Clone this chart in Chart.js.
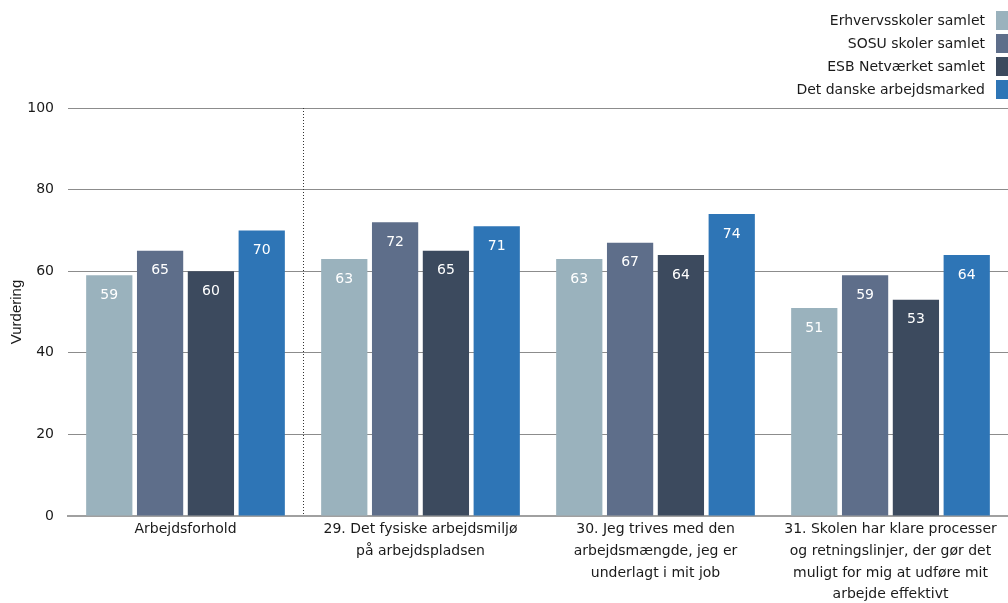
<!DOCTYPE html>
<html>
<head>
<meta charset="utf-8">
<script src="https://cdn.jsdelivr.net/npm/chart.js@4/dist/chart.umd.min.js"></script>
<style>
  html, body { margin: 0; padding: 0; background: #fff; }
  #wrap { width: 1008px; height: 603px; }
</style>
</head>
<body>
<div id="wrap"><canvas id="c" width="1008" height="603"></canvas></div>
<script>
const categories = [
  ['Arbejdsforhold'],
  ['29. Det fysiske arbejdsmiljø', 'på arbejdspladsen'],
  ['30. Jeg trives med den', 'arbejdsmængde, jeg er', 'underlagt i mit job'],
  ['31. Skolen har klare processer', 'og retningslinjer, der gør det', 'muligt for mig at udføre mit', 'arbejde effektivt']
];
const seriesNames = ['Erhvervsskoler samlet', 'SOSU skoler samlet', 'ESB Netværket samlet', 'Det danske arbejdsmarked'];
const erhvervsskoler = [59, 63, 63, 51];
const sosu = [65, 72, 67, 59];
const esb = [60, 65, 64, 53];
const arbejdsmarked = [70, 71, 74, 64];
const yTicks = [0, 20, 40, 60, 80, 100];
const colors = ['#9AB2BD', '#5E6E8A', '#3C4A5E', '#2E75B6'];

const FONT = '"DejaVu Sans", Verdana, sans-serif';

// value labels inside the top of each bar
const valueLabels = {
  id: 'valueLabels',
  afterDatasetsDraw(chart) {
    const ctx = chart.ctx;
    ctx.save();
    ctx.font = '14px ' + FONT;
    ctx.fillStyle = '#ffffff';
    ctx.textAlign = 'center';
    ctx.textBaseline = 'middle';
    chart.data.datasets.forEach((ds, i) => {
      chart.getDatasetMeta(i).data.forEach((bar, j) => {
        ctx.fillText(String(ds.data[j]), bar.x, bar.y + 20);
      });
    });
    ctx.restore();
  }
};

// dotted separator between the summary group and the questions
const separator = {
  id: 'separator',
  afterDatasetsDraw(chart) {
    const xs = chart.scales.x, ys = chart.scales.y;
    const x = Math.round((xs.getPixelForValue(0) + xs.getPixelForValue(1)) / 2) + 0.5;
    const ctx = chart.ctx;
    ctx.save();
    ctx.strokeStyle = '#333';
    ctx.lineWidth = 1;
    ctx.setLineDash([1, 2]);
    ctx.beginPath();
    ctx.moveTo(x, ys.getPixelForValue(100));
    ctx.lineTo(x, ys.getPixelForValue(0));
    ctx.stroke();
    ctx.restore();
  }
};

// right-aligned stacked legend with swatches on the right
const stackedLegend = {
  id: 'stackedLegend',
  afterDraw(chart) {
    const ctx = chart.ctx;
    ctx.save();
    ctx.font = '14px ' + FONT;
    ctx.textAlign = 'right';
    ctx.textBaseline = 'middle';
    chart.data.datasets.forEach((ds, i) => {
      const top = 11 + i * 23;
      ctx.fillStyle = ds.backgroundColor;
      ctx.fillRect(996, top, 14, 19);
      ctx.fillStyle = '#1a1a1a';
      ctx.fillText(ds.label, 985, top + 10);
    });
    ctx.restore();
  }
};

new Chart(document.getElementById('c'), {
  type: 'bar',
  data: {
    labels: categories,
    datasets: [
      { label: seriesNames[0], data: erhvervsskoler, backgroundColor: colors[0] },
      { label: seriesNames[1], data: sosu, backgroundColor: colors[1] },
      { label: seriesNames[2], data: esb, backgroundColor: colors[2] },
      { label: seriesNames[3], data: arbejdsmarked, backgroundColor: colors[3] }
    ]
  },
  options: {
    responsive: false,
    animation: false,
    layout: { padding: { top: 108, right: 0, left: 8, bottom: 0 } },
    datasets: { bar: { categoryPercentage: 0.865, barPercentage: 0.91 } },
    plugins: { legend: { display: false }, tooltip: { enabled: false } },
    scales: {
      x: {
        afterFit(axis) { axis.paddingLeft = 0; axis.paddingRight = 0; axis.height = 87; },
        grid: { display: false, drawTicks: false },
        border: { display: true, color: '#a0a0a0', width: 2 },
        ticks: { color: '#1a1a1a', font: { family: FONT, size: 14, lineHeight: 1.54 }, padding: 3, maxRotation: 0, autoSkip: false }
      },
      y: {
        min: 0, max: 100,
        afterBuildTicks(axis) { axis.ticks = yTicks.map(v => ({ value: v })); },
        afterFit(axis) { axis.width = 60; },
        grid: { color: '#8c8c8c', lineWidth: 1, drawTicks: false },
        border: { display: false },
        ticks: { color: '#1a1a1a', font: { family: FONT, size: 14 }, padding: 14 },
        title: { display: true, text: 'Vurdering', color: '#1a1a1a', font: { family: '"Liberation Sans", Arial, sans-serif', size: 15 }, padding: { top: 0, bottom: 1 } }
      }
    }
  },
  plugins: [valueLabels, separator, stackedLegend]
});
</script>
</body>
</html>
